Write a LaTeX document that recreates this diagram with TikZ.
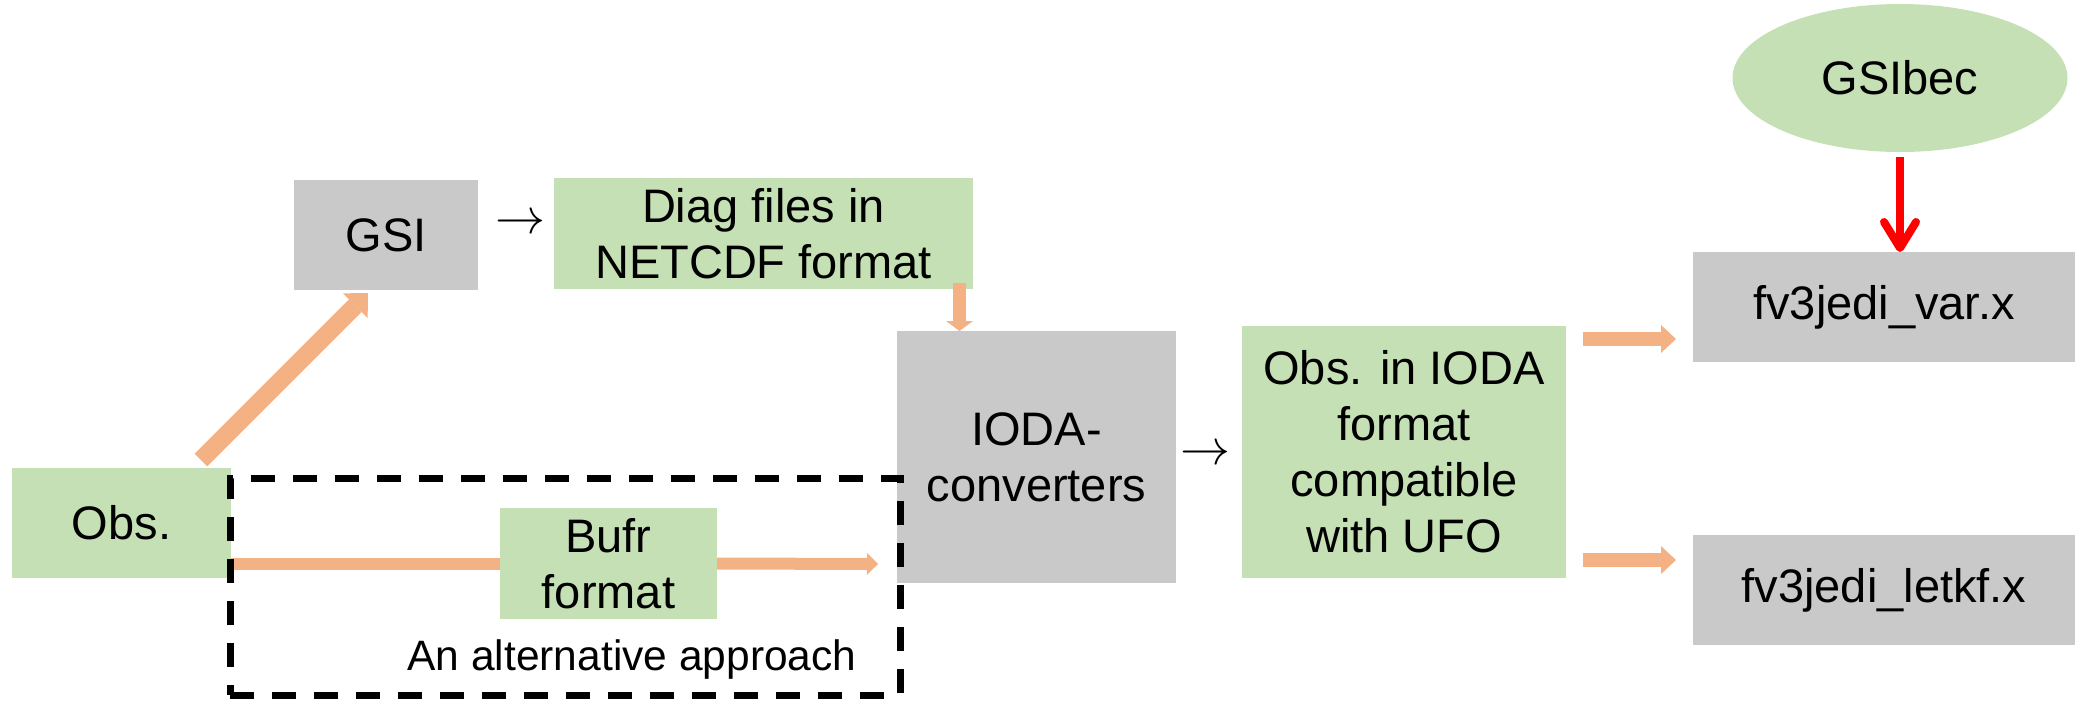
\documentclass[tikz,border=0pt]{standalone}
\usepackage{fontspec}
\setmainfont{Liberation Sans}
\usetikzlibrary{arrows.meta,shapes.geometric,calc}

\definecolor{boxgreen}{HTML}{C5E0B4}
\definecolor{boxgray}{HTML}{C9C9C9}
\definecolor{flow}{HTML}{F4B183}
\definecolor{hot}{HTML}{FF0000}

\newcommand{\bigarrowglyph}{\scalebox{5}{$\rightarrow$}}

\tikzset{
  base/.style={inner sep=0pt, outer sep=0pt, align=center, text=black,
    font=\fontsize{47}{56}\selectfont},
  greenbox/.style={base, rectangle, fill=boxgreen},
  graybox/.style={base, rectangle, fill=boxgray},
  oval/.style={base, ellipse, fill=boxgreen},
  glyph/.style={inner sep=0pt, font=\fontsize{10}{12}\selectfont},
  caption/.style={inner sep=0pt, font=\fontsize{42.5}{50}\selectfont},
  frame/.style={draw=black, line width=7pt, dash pattern=on 24pt off 18pt,
    inner sep=0pt, outer sep=0pt},
  flowthick/.style={draw=flow, line width=18pt,
    -{Triangle[length=18pt,width=35pt,line width=0pt]}},
  flowdown/.style={draw=flow, line width=13pt,
    -{Triangle[length=10pt,width=27pt,line width=0pt]}},
  flowthin/.style={draw=flow, line width=12pt},
  flowthinhead/.style={flowthin,
    -{Triangle[length=11pt,width=22pt,line width=0pt]}},
  flowout/.style={draw=flow, line width=14pt,
    -{Triangle[length=15pt,width=28pt,line width=0pt]}},
  feed/.style={draw=hot, line width=8pt,
    -{Straight Barb[length=26pt,width=32pt,round]}},
}

\begin{document}
\begin{tikzpicture}[x=1pt,y=-1pt]
\useasboundingbox (0,0) rectangle (2075,704);

% boxes
\node[greenbox, minimum width=219pt, minimum height=110pt] (obs) at (121.5,523) {Obs.};
\node[graybox, minimum width=184pt, minimum height=110pt] (gsi) at (386,235) {GSI};
\node[greenbox, minimum width=419pt, minimum height=111pt] (diag) at (763.5,233.5) {Diag files in\\NETCDF format};
\node[greenbox, minimum width=217pt, minimum height=111pt] (bufr) at (608.5,563.5) {Bufr\\format};
\node[graybox, minimum width=279pt, minimum height=252pt] (ioda) at (1036.5,457) {IODA-\\converters};
\node[greenbox, minimum width=324pt, minimum height=252pt] (obsioda) at (1404,452) {Obs. in IODA\\format\\compatible\\with UFO};
\node[graybox, minimum width=382pt, minimum height=110pt] (var) at (1884,307) {fv3jedi\_var.x};
\node[graybox, minimum width=382pt, minimum height=110pt] (letkf) at (1884,590) {fv3jedi\_letkf.x};
\node[oval, minimum width=335pt, minimum height=148pt] (gsibec) at (1900,78) {GSIbec};

% inline arrow glyphs
\node[glyph] (arrA) at (520,224) {\bigarrowglyph};
\node[glyph] (arrB) at (1205,455) {\bigarrowglyph};

% flow connectors
\draw[flowthick] ([xshift=79.5pt,yshift=8pt]obs.north) -- ([xshift=-18pt,yshift=-3pt]gsi.south);
\draw[flowdown] ([xshift=196pt,yshift=6pt]diag.south) -- ([xshift=-77pt]ioda.north);
\coordinate (alttip) at (878,564);
\draw[flowthin] (obs.east |- bufr.west) -- (bufr.west);
\draw[flowthinhead] (bufr.east) -- (alttip);
\draw[flowout] ($(obsioda.east)+(17pt,113pt)$) -- ($(var.west)+(-17pt,-32pt)$);
\draw[flowout] ($(obsioda.east)+(17pt,-108pt)$) -- ($(letkf.west)+(-17pt,30pt)$);
\draw[feed] ([yshift=-5pt]gsibec.south) -- (gsibec.south |- var.north);

% dashed frame around the alternative route
\node[frame, minimum width=670pt, minimum height=217pt] (alt) at (565,586.5) {};
\node[caption, anchor=base] (altlabel) at (632,670) {An alternative approach};
\end{tikzpicture}
\end{document}
